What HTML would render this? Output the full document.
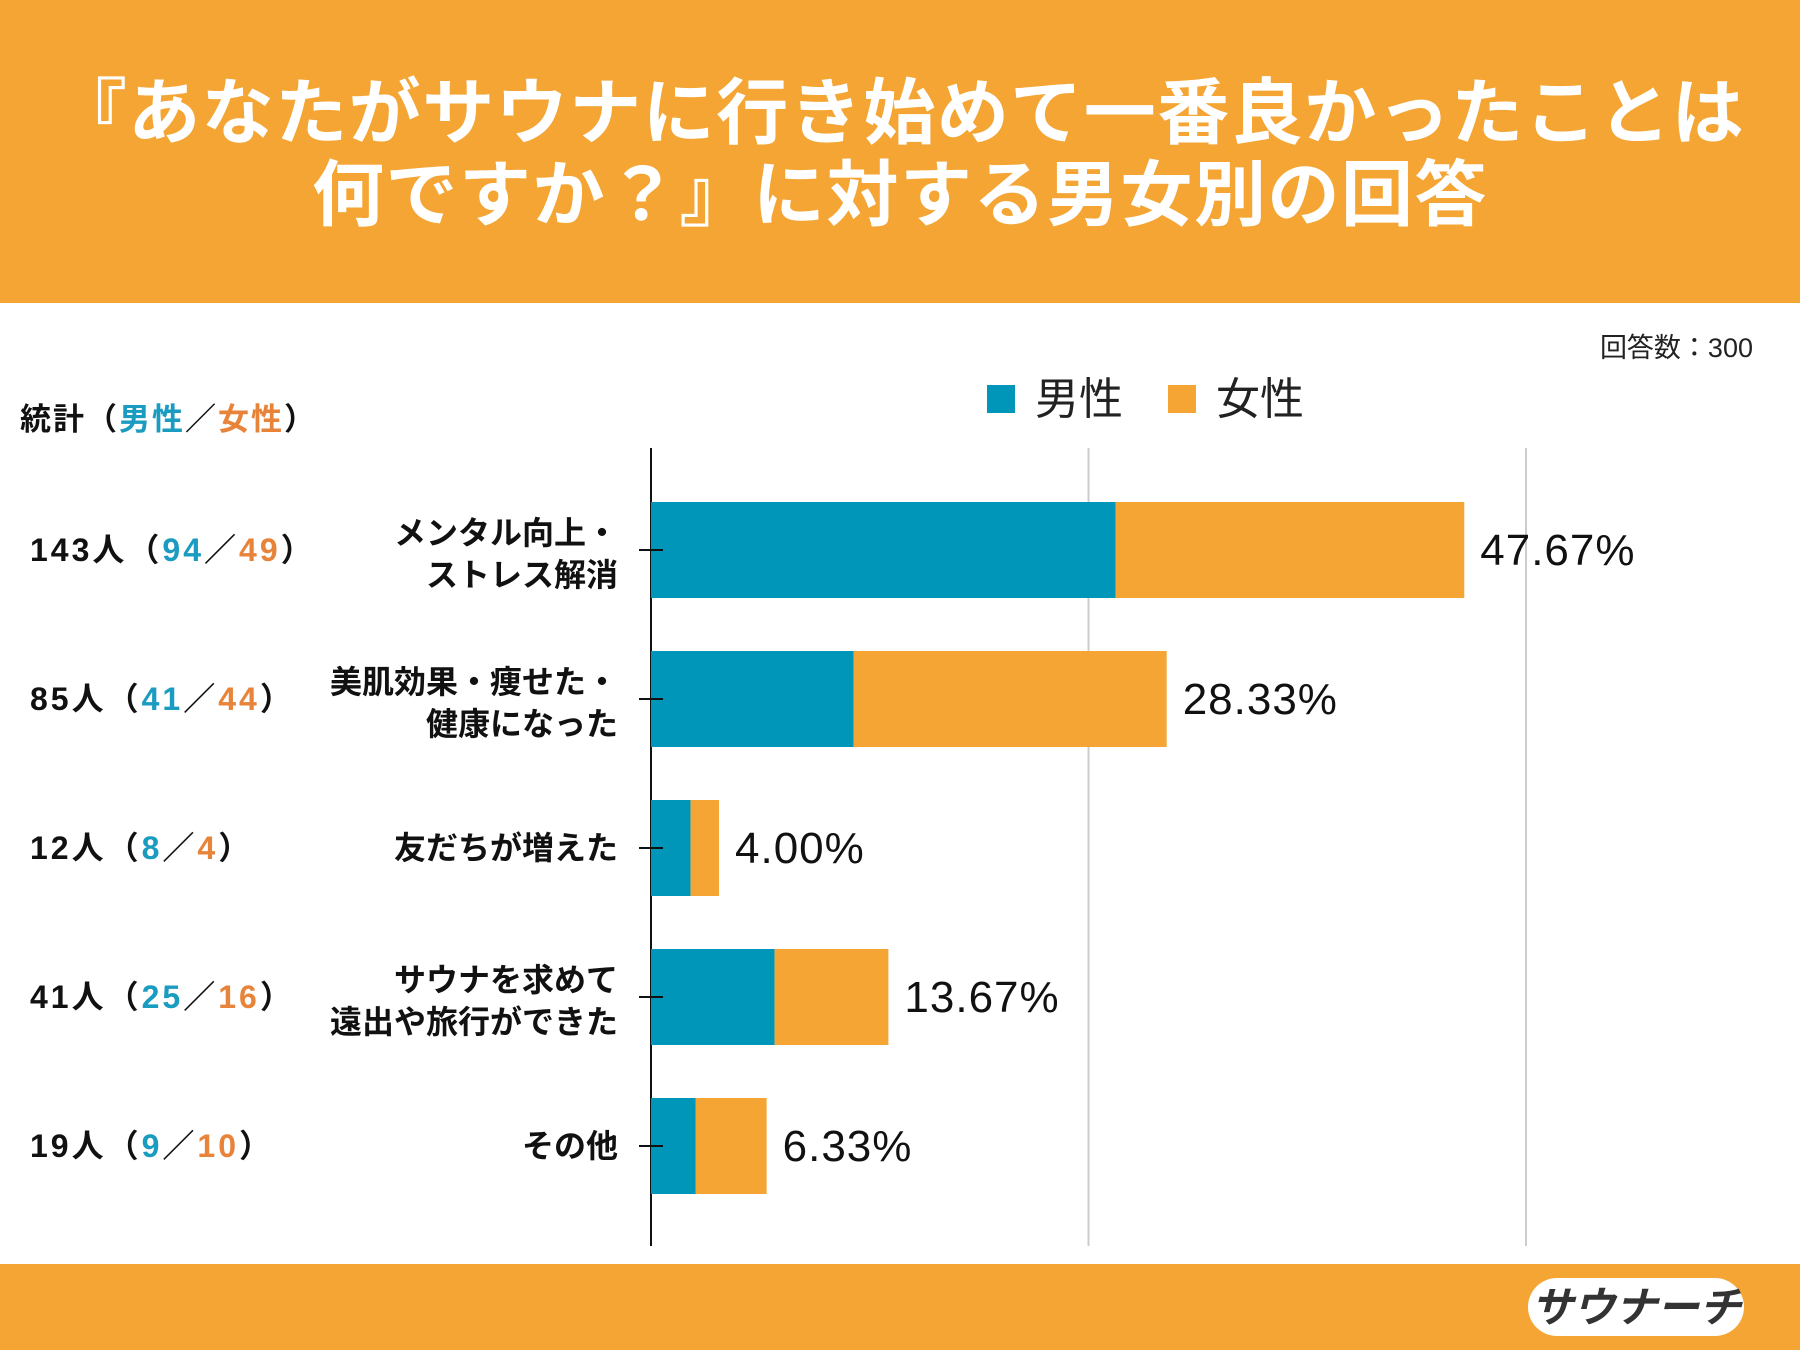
<!DOCTYPE html>
<html><head><meta charset="utf-8"><style>
body{margin:0;width:1800px;height:1350px;overflow:hidden;background:#fff;font-family:"Liberation Sans","Noto Sans CJK JP",sans-serif}
svg text{font-family:"Liberation Sans","Noto Sans CJK JP",sans-serif}
</style></head><body>
<svg id="c" width="1800" height="1350">
<rect x="0" y="0" width="1800" height="303" fill="#F4A533"/>
<text x="900" y="138" text-anchor="middle" font-size="72" font-weight="bold" fill="#fff" letter-spacing="1.5">『あなたがサウナに行き始めて一番良かったことは</text>
<text x="900" y="220" text-anchor="middle" font-size="72" font-weight="bold" fill="#fff" letter-spacing="1.5">何ですか？』に対する男女別の回答</text>
<text x="1753" y="357" text-anchor="end" font-size="27" fill="#222">回答数：300</text>
<rect x="987" y="385" width="28" height="28" fill="#0096BA"/>
<text x="1035" y="414" font-size="44" fill="#222">男性</text>
<rect x="1168" y="385" width="28" height="28" fill="#F4A533"/>
<text x="1216" y="414" font-size="44" fill="#222">女性</text>
<text x="20" y="430" font-size="31" font-weight="bold" fill="#111" letter-spacing="2">統計（<tspan fill="#1A9BC0">男性</tspan>／<tspan fill="#E8833A">女性</tspan>）</text>
<g id="grid"></g><g id="bars"></g>
<rect x="0" y="1264" width="1800" height="86" fill="#F4A533"/>
<g>
<rect x="1528" y="1278" width="216" height="58" rx="29" fill="#fff"/>
<text x="1636" y="1322" text-anchor="middle" font-size="42" font-weight="bold" fill="#333" font-style="italic">サウナーチ</text>
</g>
</svg>
<script>
const categories1=["メンタル向上・","美肌効果・痩せた・","友だちが増えた","サウナを求めて","その他"];
const categories2=["ストレス解消","健康になった","","遠出や旅行ができた",""];
const maleCounts=[94,41,8,25,9];
const femaleCounts=[49,44,4,16,10];
const pctLabels=["47.67%","28.33%","4.00%","13.67%","6.33%"];
const gridTicks=[50,100];
const NS="http://www.w3.org/2000/svg";
const x0=651,pxPerPct=8.75,rowTop=502,rowStep=149,barH=96;
const maleTotal=maleCounts.reduce((a,b)=>a+b,0),femaleTotal=femaleCounts.reduce((a,b)=>a+b,0);
const xs=p=>x0+p*pxPerPct;
function mk(tag,attrs,parent){const e=document.createElementNS(NS,tag);for(const k in attrs)e.setAttribute(k,attrs[k]);parent.appendChild(e);return e;}
const grid=document.getElementById('grid'),bars=document.getElementById('bars');
gridTicks.forEach(t=>{const l=mk('line',{x1:xs(t),x2:xs(t),y1:448,y2:1246,stroke:'#ccc','stroke-width':2},grid);

});
const ax=mk('line',{x1:x0,x2:x0,y1:448,y2:1246,stroke:'#111','stroke-width':2},bars);


categories1.forEach((c,i)=>{
 const y=rowTop+i*rowStep,cy=y+barH/2;
 const mp=maleCounts[i]/maleTotal*100,fp=femaleCounts[i]/femaleTotal*100;
 const m=mk('rect',{x:x0,y:y,width:mp*pxPerPct,height:barH,fill:'#0096BA'},bars);
 
 
 const f=mk('rect',{x:xs(mp),y:y,width:fp*pxPerPct,height:barH,fill:'#F4A533'},bars);
 
 
 const tk=mk('line',{x1:x0-12,x2:x0+12,y1:cy,y2:cy,stroke:'#111','stroke-width':2},bars);
 
 
 const v=mk('text',{x:xs(mp+fp)+16,y:cy+15,'font-size':44,fill:'#111','letter-spacing':1},bars);v.textContent=pctLabels[i];
 
 
 const two=categories2[i]!=="";
 const t1=mk('text',{x:618,y:two?cy-6:cy+11,'text-anchor':'end','font-size':32,'font-weight':'bold',fill:'#111'},bars);t1.textContent=c;
 
 
 if(two){const t2=mk('text',{x:618,y:cy+36,'text-anchor':'end','font-size':32,'font-weight':'bold',fill:'#111'},bars);t2.textContent=categories2[i];
 
 }
 const s=mk('text',{x:30,y:cy+11,'font-size':32,'font-weight':'bold',fill:'#111','letter-spacing':3},bars);
 s.innerHTML=(maleCounts[i]+femaleCounts[i])+'人（<tspan fill="#1A9BC0">'+maleCounts[i]+'</tspan>／<tspan fill="#E8833A">'+femaleCounts[i]+'</tspan>）';
 
 
});
</script>
</body></html>
